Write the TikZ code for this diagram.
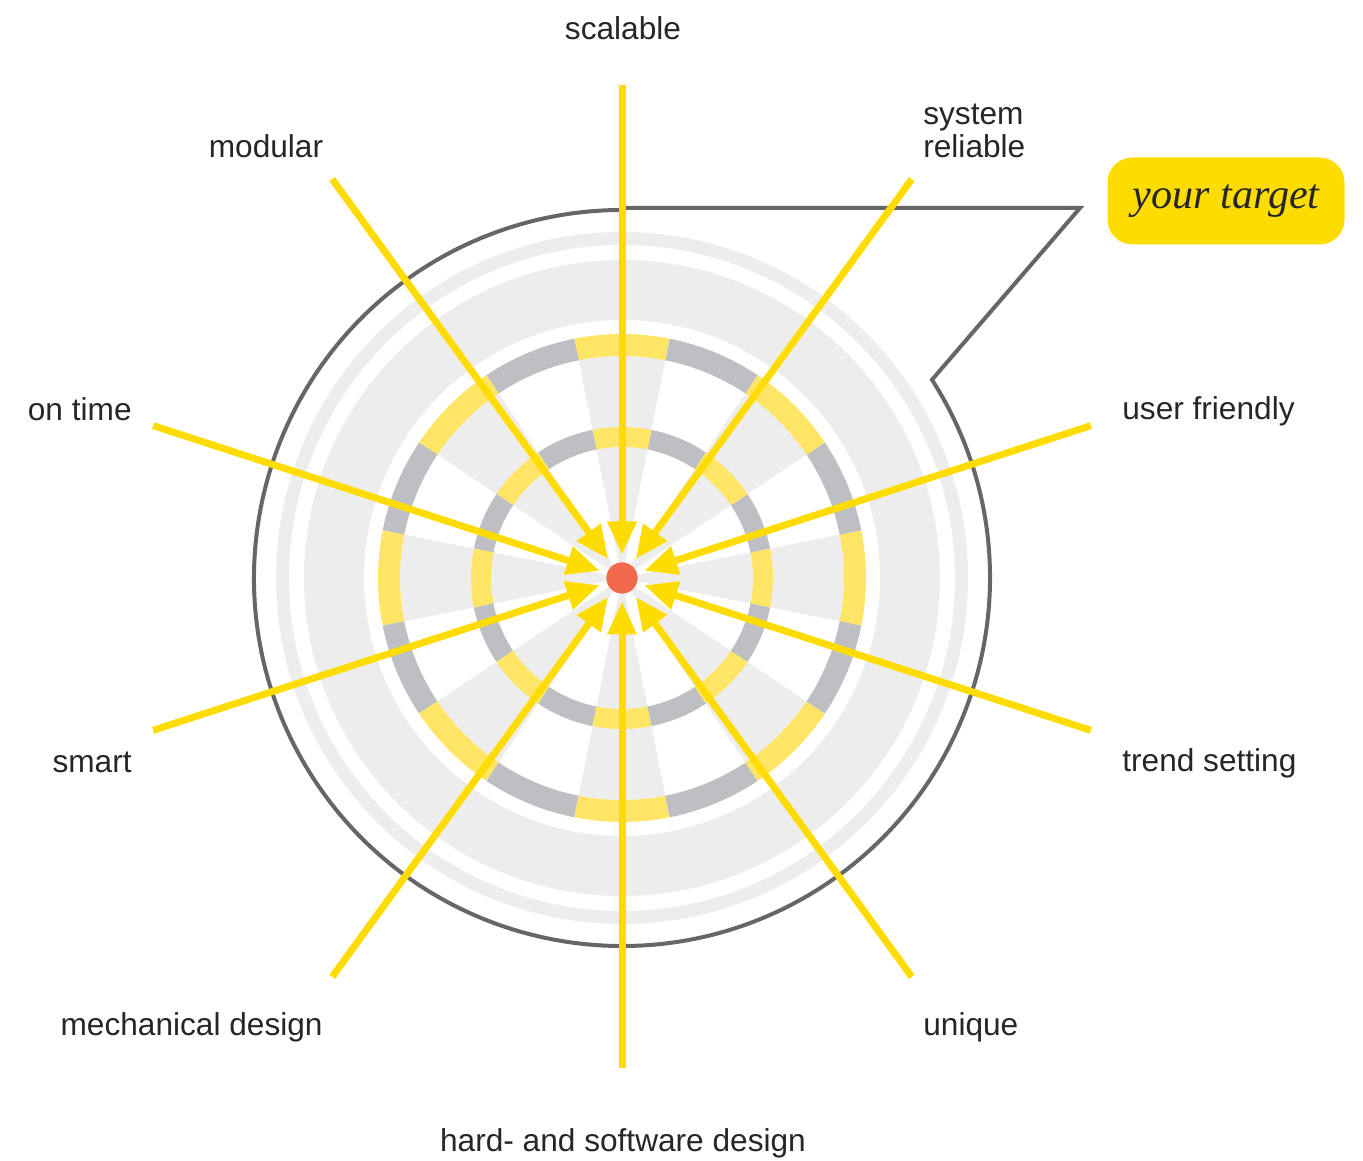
\documentclass[tikz,border=0pt]{standalone}
\usepackage{fontspec}
\setmainfont{Liberation Sans}
\newfontfamily\handfont{Liberation Serif}
\usetikzlibrary{arrows.meta,positioning}

\definecolor{rayyel}{HTML}{FFDC00}
\definecolor{ringyel}{HTML}{FFE566}
\definecolor{ringgrey}{HTML}{BEBFC3}
\definecolor{wedgegrey}{HTML}{EDEDED}
\definecolor{outlinegrey}{HTML}{666666}
\definecolor{hubred}{HTML}{F0694A}

\begin{document}
\begin{tikzpicture}[
    x=0.2mm, y=0.2mm,
    wedge/.style={fill=wedgegrey},
    band/.style={draw=wedgegrey},
    ray/.style={draw=rayyel, line width=1.4mm, -{Triangle[length=6.6mm, width=5.6mm]}, shorten >=1.6mm},
    lbl/.style={font=\fontsize{18}{18.5}\selectfont, text=black!85, inner sep=0pt, align=left},
    hubdot/.style={circle, fill=hubred, minimum size=6.2mm, inner sep=0pt, outer sep=0pt},
    tgtbox/.style={fill=rayyel, rounded corners=5mm, minimum width=47.4mm, minimum height=17.4mm, font=\handfont\itshape\fontsize{24}{24}\selectfont, text=black!85}
]
\useasboundingbox (-622,-583) rectangle (741,578);

% sectors
\foreach \a in {0,45,...,315}
  \fill[wedge] (0,0) -- (\a-11.25:222) arc[start angle=\a-11.25, end angle=\a+11.25, radius=222] -- cycle;

% outer bands
\draw[band, line width=12mm] (0,0) circle[radius=288];
\draw[band, line width=2.6mm] (0,0) circle[radius=339.5];

% segmented rings
\foreach \a in {0,45,...,315} {
  \draw[ringyel, line width=4.4mm] (\a-11.25:233) arc[start angle=\a-11.25, end angle=\a+11.25, radius=233];
  \draw[ringgrey, line width=4.4mm] (\a+11.25:233) arc[start angle=\a+11.25, end angle=\a+33.75, radius=233];
  \draw[ringyel, line width=4mm] (\a-11.25:141) arc[start angle=\a-11.25, end angle=\a+11.25, radius=141];
  \draw[ringgrey, line width=4mm] (\a+11.25:141) arc[start angle=\a+11.25, end angle=\a+33.75, radius=141];
}

% speech bubble outline
\draw[outlinegrey, line width=0.8mm, line join=miter] (90:370) -- (458,370) -- (32.6:368)
  arc[start angle=32.6, end angle=-270, radius=368] -- cycle;

\node[hubdot] (hub) at (0,0) {};
\node[tgtbox] (tgt) at (604,377) {your target};

% ray ends
\coordinate (e-scal) at (90:493);
\coordinate (e-sys) at (54:493);
\coordinate (e-user) at (18:493);
\coordinate (e-trend) at (-18:493);
\coordinate (e-uniq) at (-54:493);
\coordinate (e-hard) at (-90:490);
\coordinate (e-mech) at (-126:493);
\coordinate (e-smart) at (-162:493);
\coordinate (e-time) at (162:493);
\coordinate (e-mod) at (126:493);

\draw[ray] (e-scal) -- (hub);
\draw[ray] (e-sys) -- (hub);
\draw[ray] (e-user) -- (hub);
\draw[ray] (e-trend) -- (hub);
\draw[ray] (e-uniq) -- (hub);
\draw[ray] (e-hard) -- (hub);
\draw[ray] (e-mech) -- (hub);
\draw[ray] (e-smart) -- (hub);
\draw[ray] (e-time) -- (hub);
\draw[ray] (e-mod) -- (hub);
\node[hubdot] at (hub) {};

% labels
\node[lbl] (scal) at (1,550) {scalable};
\node[lbl, anchor=west] (sys) at (301,447) {system\\reliable};
\node[lbl, anchor=west] (user) at (500,167) {user friendly};
\node[lbl, anchor=west] (trend) at (500,-185) {trend setting};
\node[lbl, anchor=west] (uniq) at (301,-449) {unique};
\node[lbl] (hard) at (1,-565) {hard- and software design};
\node[lbl, anchor=east] (mech) at (-299,-449) {mechanical design};
\node[lbl, anchor=east] (smart) at (-490,-184) {smart};
\node[lbl, anchor=east] (time) at (-490,169) {on time};
\node[lbl] (mod) at (-356,432) {modular};
\end{tikzpicture}
\end{document}
